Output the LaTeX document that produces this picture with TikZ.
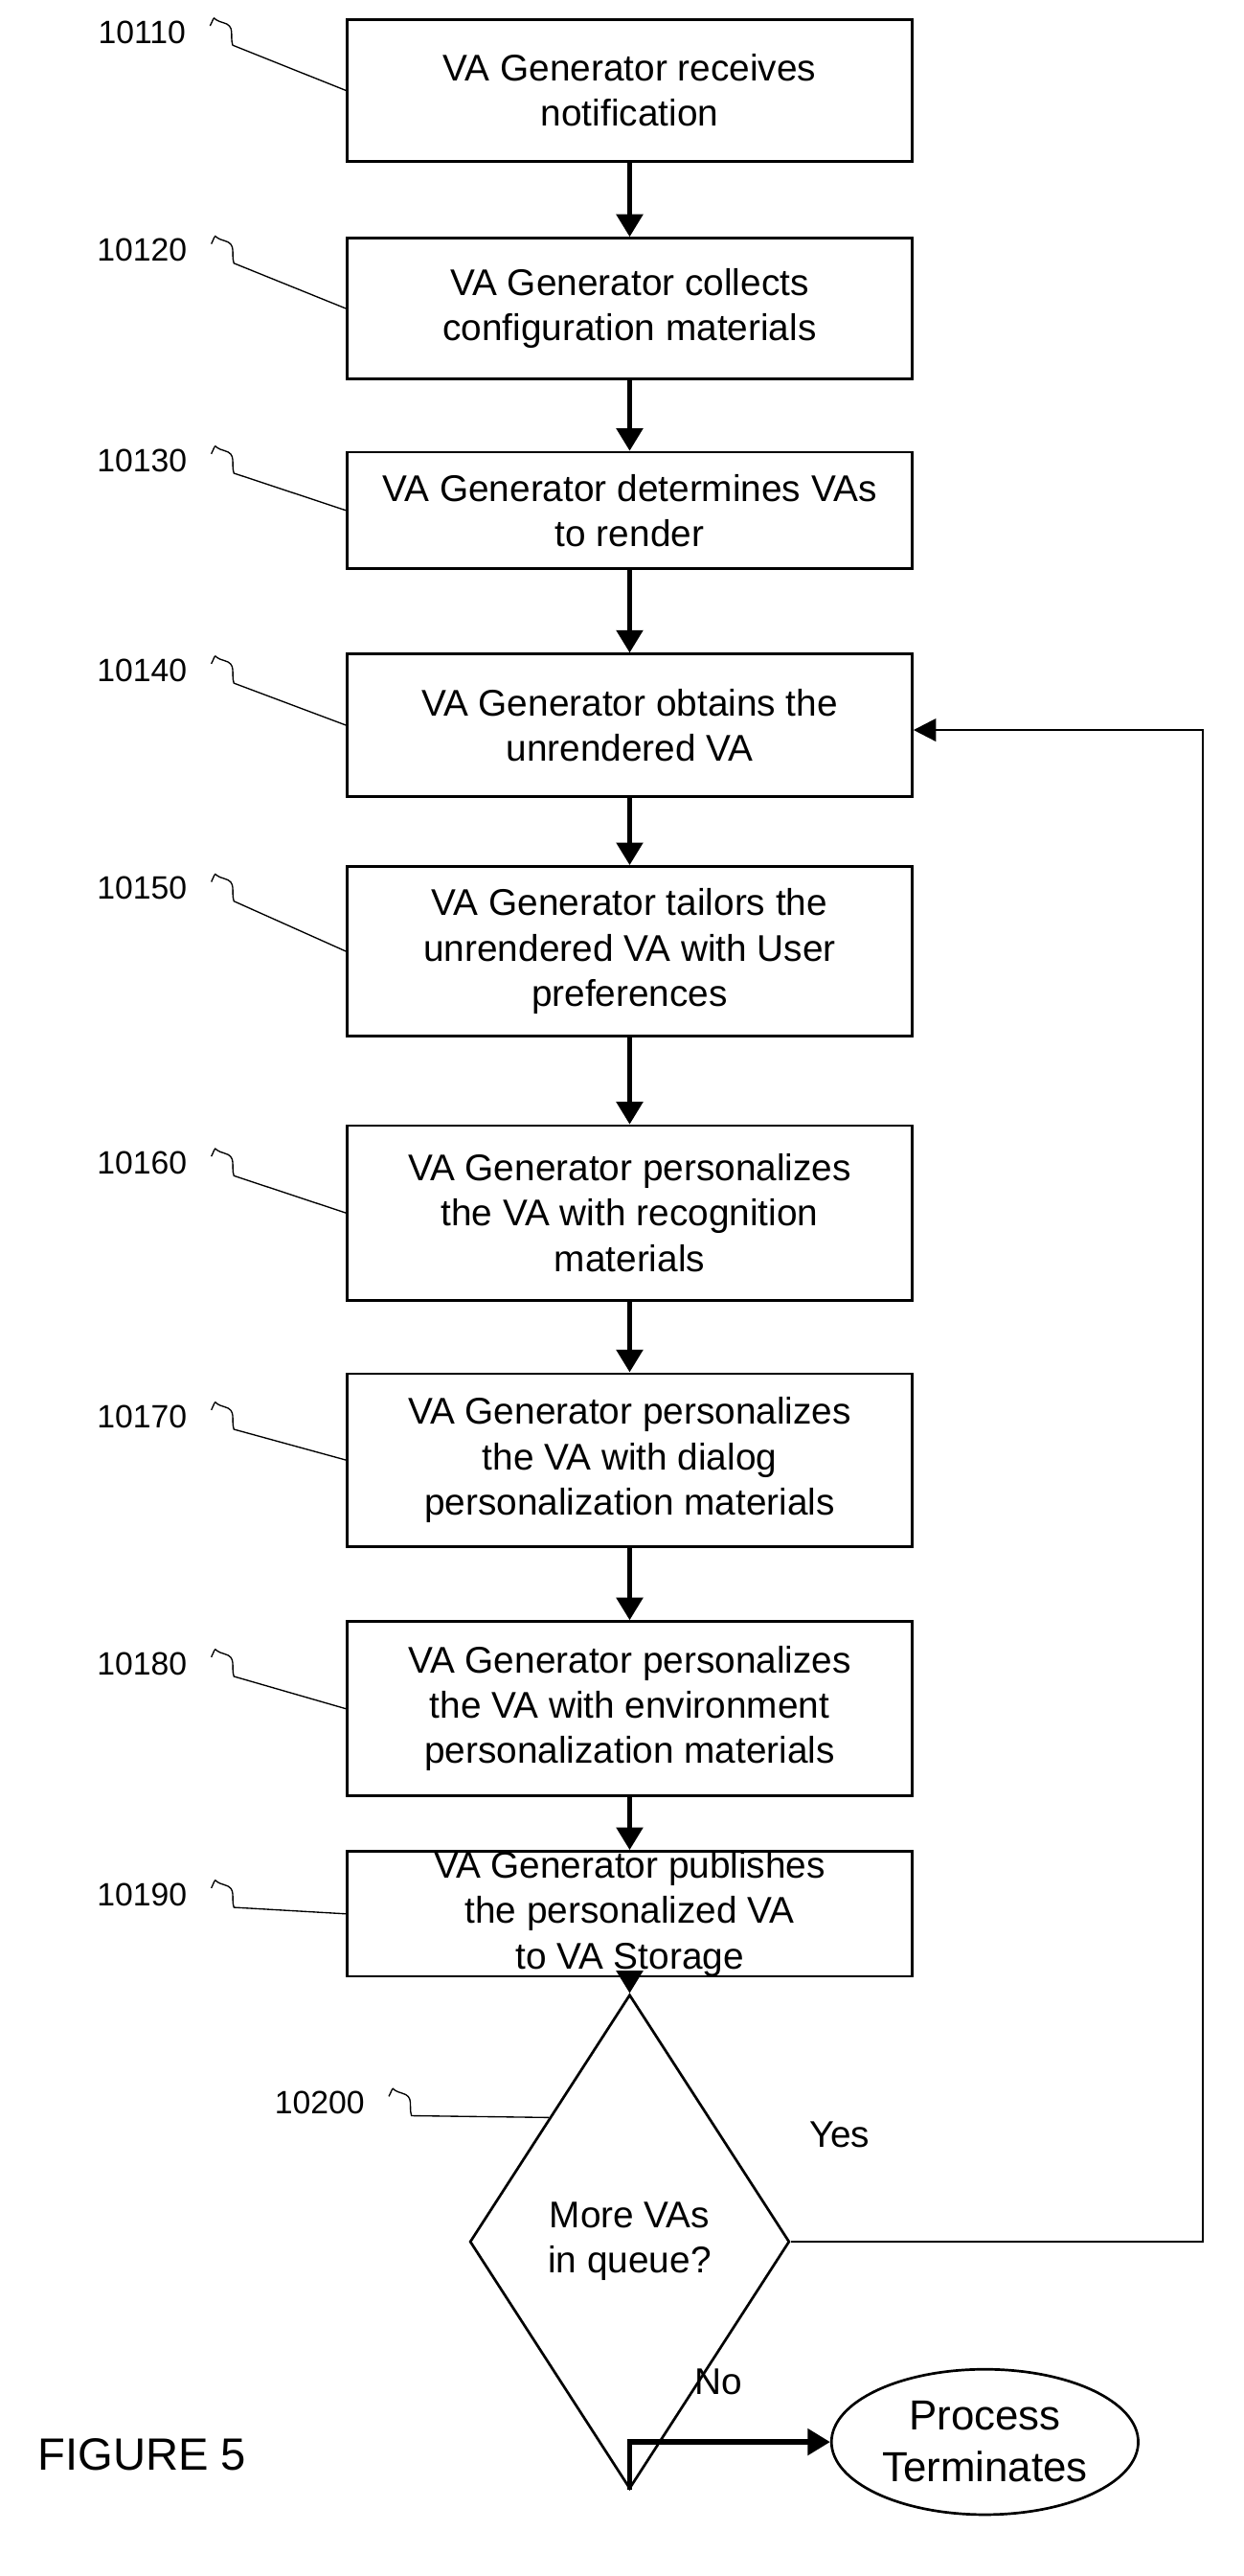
\documentclass[tikz,border=0pt]{standalone}
\usepackage{fontspec}
\setmainfont{Liberation Sans}
\usetikzlibrary{shapes.geometric,positioning,arrows.meta,calc}
\tikzset{
  vabox/.style={draw, thick, minimum width=175pt, align=center, inner sep=1pt,
    font=\fontsize{11.5}{14}\selectfont},
  flow/.style={ultra thick, -{Triangle[length=7pt,width=8pt]}},
  lead/.style={thin},
  refno/.style={font=\fontsize{10}{12}\selectfont}
}
% reference number with its squiggle lead to the box
\newcommand{\refnum}[3]{%
  \node[refno] (n#1) at (#2) {#1};
  \draw[lead] ($(n#1.east)+(8,-4)$) .. controls +(4,-8) and +(-8,-2) .. ($(n#1.east)+(16,-6)$)
    .. controls +(8,2) and +(-2,-6) .. ($(n#1.east)+(22,8)$) -- (#3);}
\begin{document}
\begin{tikzpicture}[x=0.5pt,y=-0.5pt]
  \useasboundingbox (0,0) rectangle (770,1595);
  \node[vabox, minimum height=44pt] (s1) at (390,56) {VA Generator receives\\notification};
  \node[vabox, minimum height=43.5pt] (s2) at (390,191) {VA Generator collects\\configuration materials};
  \node[vabox, minimum height=36pt] (s3) at (390,316) {VA Generator determines VAs\\to render};
  \node[vabox, minimum height=44pt] (s4) at (390,449) {VA Generator obtains the\\unrendered VA};
  \node[vabox, minimum height=52.5pt] (s5) at (390,589) {VA Generator tailors the\\unrendered VA with User\\preferences};
  \node[vabox, minimum height=54pt] (s6) at (390,751) {VA Generator personalizes\\the VA with recognition\\materials};
  \node[vabox, minimum height=53.5pt] (s7) at (390,904) {VA Generator personalizes\\the VA with dialog\\personalization materials};
  \node[vabox, minimum height=54pt] (s8) at (390,1058) {VA Generator personalizes\\the VA with environment\\personalization materials};
  \node[vabox, minimum height=37pt, inner sep=0pt] (s9) at (390,1185) {VA Generator publishes\\the personalized VA\\to VA Storage};
  \node[draw, thick, diamond, minimum width=99pt, minimum height=153pt, inner sep=0pt,
    align=center, font=\fontsize{11.5}{14}\selectfont] (q) at (390,1388) {More VAs\\in queue?};
  \node[draw, thick, ellipse, minimum width=95pt, minimum height=45pt, inner sep=0pt,
    align=center, font=\fontsize{13}{16}\selectfont] (end) at (610,1512) {Process\\Terminates};

  \foreach \a/\b in {s1/s2,s2/s3,s3/s4,s4/s5,s5/s6,s6/s7,s7/s8,s8/s9,s9/q}
    \draw[flow] (\a) -- (\b);
  \coordinate (c1) at (745,1388);
  \coordinate (c2) at (745,452);
  \draw[thick, -{Triangle[length=7pt,width=7pt]}] (q.east) -- (c1) -- (c2) -- (s4.east |- c2);
  \coordinate (c3) at (390,1512);
  \draw[flow] (q.south) -- (c3) -- (end.west);
  \node[font=\fontsize{11.5}{14}\selectfont] (yes) at (520,1322) {Yes};
  \node[font=\fontsize{11.5}{14}\selectfont] (no) at (445,1475) {No};
  \node[font=\fontsize{14}{16}\selectfont] (fig) at (88,1520) {FIGURE 5};

  \refnum{10110}{88,20}{s1.west}
  \refnum{10120}{88,155}{s2.west}
  \refnum{10130}{88,285}{s3.west}
  \refnum{10140}{88,415}{s4.west}
  \refnum{10150}{88,550}{s5.west}
  \refnum{10160}{88,720}{s6.west}
  \refnum{10170}{88,877}{s7.west}
  \refnum{10180}{88,1030}{s8.west}
  \refnum{10190}{88,1173}{s9.west}
  \refnum{10200}{198,1302}{q.north west}
\end{tikzpicture}
\end{document}
